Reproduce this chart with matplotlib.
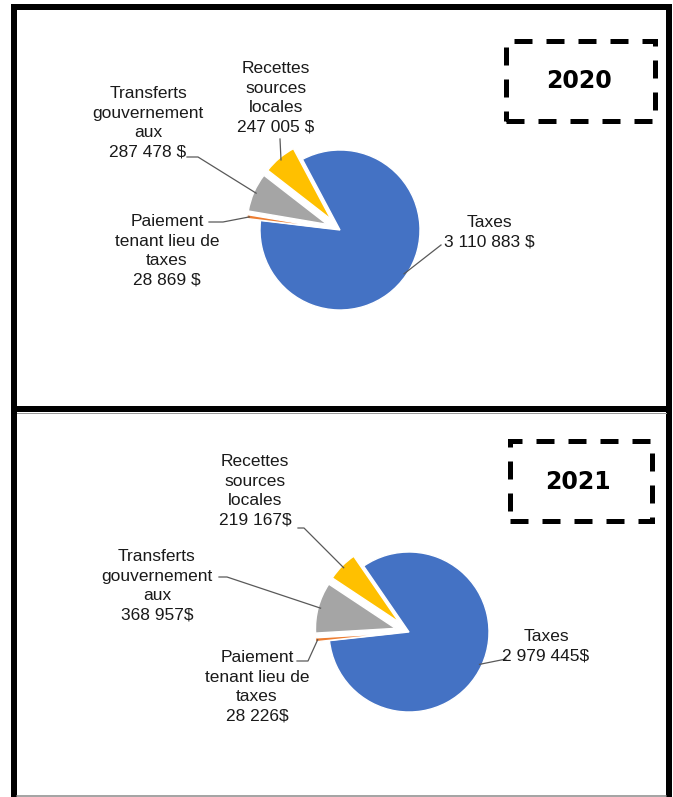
import math
import matplotlib
matplotlib.use("Agg")
import matplotlib.pyplot as plt
from matplotlib.patches import Rectangle

# data
categories = ["Taxes", "Paiement\ntenant lieu de\ntaxes", "Transferts\ngouvernement\naux",
              "Recettes\nsources\nlocales"]
values_2020 = [3110883, 28869, 287478, 247005]
values_2021 = [2979445, 28226, 368957, 219167]
amounts_2020 = ["3 110 883 $", "28 869 $", "287 478 $", "247 005 $"]
amounts_2021 = ["2 979 445$", "28 226$", "368 957$", "219 167$"]
years = ["2020", "2021"]
colors = ["#4472C4", "#ED7D31", "#A5A5A5", "#FFC000"]

W, H = 673, 797
PX = 0.72  # points per pixel at dpi 100

fig = plt.figure(figsize=(W / 100, H / 100), dpi=100)
ax = fig.add_axes([0, 0, 1, 1])


def Y(y):
    return H - y


# layout of each panel, image pixel coords
panels = [
    dict(values=values_2020, amounts=amounts_2020, year=years[0],
         center=(340, 230), start=118,
         box=(505.5, 40.5, 654.5, 120.5), year_xy=(579, 81),
         text_xy=[(489, 232), (167, 251), (148, 123), (276, 98)],
         leaders=[[(441, 245)], [(209, 222), (223, 222)],
                  [(187, 157), (198, 157)], [(280, 139)]]),
    dict(values=values_2021, amounts=amounts_2021, year=years[1],
         center=(409, 632), start=124.5,
         box=(509.5, 440.5, 651.5, 521), year_xy=(578, 482),
         text_xy=[(546, 646), (257, 687), (157, 586), (255, 491)],
         leaders=[[(506, 659)], [(297, 661), (308, 661)],
                  [(219, 577), (227, 577)], [(298, 528), (304, 528)]]),
]

for p in panels:
    cx, cy = p["center"]
    wedges, _ = ax.pie(p["values"], colors=colors, radius=80, center=(cx, Y(cy)),
                       startangle=p["start"], counterclock=False,
                       explode=[0, 14, 14, 14],
                       wedgeprops=dict(edgecolor="white", linewidth=1.0))
    for i, w in enumerate(wedges):
        name = categories[i]
        tx, ty = p["text_xy"][i]
        ax.text(tx, Y(ty), name + "\n" + p["amounts"][i], ha="center", va="center",
                multialignment="center", fontsize=12.5, family="Liberation Sans",
                color="#1a1a1a", linespacing=1.38)
        mid = math.radians((w.theta1 + w.theta2) / 2)
        wx = w.center[0] + w.r * 0.97 * math.cos(mid)
        wy = w.center[1] + w.r * 0.97 * math.sin(mid)
        pts = [(x, Y(y)) for x, y in p["leaders"][i]] + [(wx, wy)]
        ax.plot([q[0] for q in pts], [q[1] for q in pts], color="#595959", lw=0.9)

    x0, y0, x1, y1 = p["box"]
    ax.add_patch(Rectangle((x0, Y(y1)), x1 - x0, y1 - y0, fill=False,
                           edgecolor="black", lw=5 * PX, linestyle=(0, (3.6, 2.8)),
                           joinstyle="miter", capstyle="butt"))
    ax.text(p["year_xy"][0], Y(p["year_xy"][1]), p["year"], ha="center", va="center",
            fontsize=17, fontweight="bold", family="DejaVu Sans", color="black")

# outer frames
ax.plot([11, 672], [Y(6.5), Y(6.5)], color="black", lw=6 * PX, solid_capstyle="butt")
ax.plot([11, 672], [Y(409), Y(409)], color="black", lw=6 * PX, solid_capstyle="butt")
ax.plot([14, 14], [Y(4), Y(797)], color="black", lw=6 * PX, solid_capstyle="butt")
ax.plot([669, 669], [Y(4), Y(797)], color="black", lw=6 * PX, solid_capstyle="butt")
ax.plot([17, 666], [Y(413), Y(413)], color="#999999", lw=1 * PX)
ax.plot([17, 666], [Y(796), Y(796)], color="#888888", lw=1.5 * PX)

ax.set_xlim(0, W)
ax.set_ylim(0, H)
ax.set_aspect("equal")
ax.axis("off")

fig.savefig("out.png", dpi=100)
